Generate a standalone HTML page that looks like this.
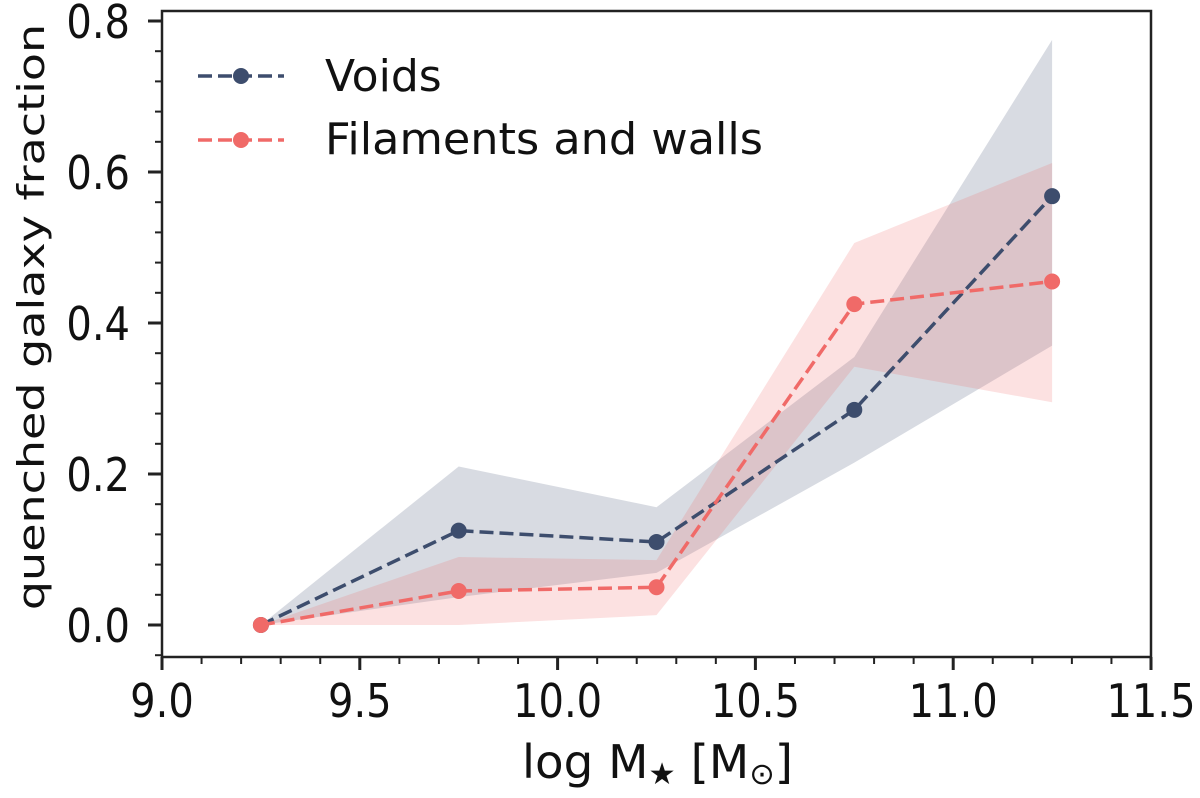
<!DOCTYPE html>
<html><head><meta charset="utf-8"><style>
html,body{margin:0;padding:0;background:#fff;}
svg text{font-family:"DejaVu Sans","Liberation Sans",sans-serif;fill:#111;}
</style></head><body>
<svg id="chart" width="1200" height="793" xmlns="http://www.w3.org/2000/svg">
<g id="bands"></g><g id="lines"></g><g id="axes"></g>
<g>
 <line x1="198" y1="76" x2="284" y2="76" stroke="#3d4d6d" stroke-width="3.5" stroke-dasharray="14,6"/>
 <circle cx="241" cy="76" r="8" fill="#3d4d6d"/>
 <text x="325" y="91" font-size="44">Voids</text>
 <line x1="198" y1="140" x2="284" y2="140" stroke="#f06a68" stroke-width="3.5" stroke-dasharray="14,6"/>
 <circle cx="241" cy="140" r="8" fill="#f06a68"/>
 <text x="325" y="154" font-size="44" textLength="438" lengthAdjust="spacingAndGlyphs">Filaments and walls</text>
</g>
<text x="522" y="778" font-size="46" textLength="271" lengthAdjust="spacingAndGlyphs">log M<tspan font-size="30" dy="6">★</tspan><tspan dy="-6"> [M</tspan><tspan font-size="30" dy="6">⊙</tspan><tspan dy="-6">]</tspan></text>
<text transform="translate(44,317) rotate(-90) scale(1,0.8)" font-size="46" text-anchor="middle">quenched galaxy fraction</text>
</svg>
<script>
const xs = [9.25, 9.75, 10.25, 10.75, 11.25];
const voids = [0, 0.125, 0.11, 0.285, 0.568];
const voidsLo = [0, 0.037, 0.069, 0.215, 0.37];
const voidsHi = [0, 0.21, 0.156, 0.355, 0.775];
const fil = [0, 0.045, 0.05, 0.425, 0.455];
const filLo = [0, 0, 0.013, 0.342, 0.295];
const filHi = [0, 0.09, 0.086, 0.506, 0.612];
const xTicks = [9.0, 9.5, 10.0, 10.5, 11.0, 11.5];
const xTickLabels = ["9.0","9.5","10.0","10.5","11.0","11.5"];
const yTicks = [0, 0.2, 0.4, 0.6, 0.8];
const yTickLabels = ["0.0","0.2","0.4","0.6","0.8"];
const NS="http://www.w3.org/2000/svg";
const X0=162,X1=1151,Y0=625,YTOP=11,BOTTOM=657;
const sx=v=>X0+(v-9.0)/2.5*(X1-X0);
const sy=v=>Y0-v*755;
function mk(t,a,p){const e=document.createElementNS(NS,t);for(const k in a)e.setAttribute(k,a[k]);p.appendChild(e);return e;}
const bands=document.getElementById('bands'),lines=document.getElementById('lines'),axes=document.getElementById('axes');
function band(lo,hi,col,name){
 let pts=xs.map((x,i)=>sx(x)+','+sy(hi[i]));
 for(let i=xs.length-1;i>=0;i--)pts.push(sx(xs[i])+','+sy(lo[i]));
 const p=mk('polygon',{points:pts.join(' '),fill:col,'fill-opacity':0.2},bands);
 
 
}
band(voidsLo,voidsHi,'#3d4d6d','voids-band');
band(filLo,filHi,'#f06a68','filaments-band');
function series(v,col,name){
 const pl=mk('polyline',{points:xs.map((x,i)=>sx(x)+','+sy(v[i])).join(' '),fill:'none',stroke:col,'stroke-width':3.5,'stroke-dasharray':'14,6'},lines);
 
 
 xs.forEach((x,i)=>{const c=mk('circle',{cx:sx(x),cy:sy(v[i]),r:8,fill:col},lines);
  
  });
}
series(voids,'#3d4d6d','voids');
series(fil,'#f06a68','filaments');
const fr=mk('rect',{x:X0,y:YTOP,width:X1-X0,height:BOTTOM-YTOP,fill:'none',stroke:'#222','stroke-width':2.5},axes);


xTicks.forEach((t,i)=>{
 mk('line',{x1:sx(t),x2:sx(t),y1:BOTTOM,y2:BOTTOM+13,stroke:'#222','stroke-width':3},axes);
 const tx=mk('text',{transform:'translate('+sx(t)+','+(BOTTOM+60)+') scale(0.87,1)','font-size':46,'text-anchor':'middle'},axes);
 tx.textContent=xTickLabels[i];
 
 
});
for(let v=9.1;v<11.5;v+=0.1){mk('line',{x1:sx(v),x2:sx(v),y1:BOTTOM,y2:BOTTOM+7,stroke:'#222','stroke-width':2},axes);}
yTicks.forEach((t,i)=>{
 mk('line',{x1:X0-14,x2:X0,y1:sy(t),y2:sy(t),stroke:'#222','stroke-width':3},axes);
 const tx=mk('text',{transform:'translate('+(X0-32)+','+(sy(t)+17)+') scale(0.87,1)','font-size':46,'text-anchor':'end'},axes);
 tx.textContent=yTickLabels[i];
 
 
});
for(let v=-0.04;v<0.84;v+=0.04){const y=sy(v);if(y<YTOP||y>BOTTOM)continue;mk('line',{x1:X0-7,x2:X0,y1:y,y2:y,stroke:'#222','stroke-width':2},axes);}
</script>
</body></html>
